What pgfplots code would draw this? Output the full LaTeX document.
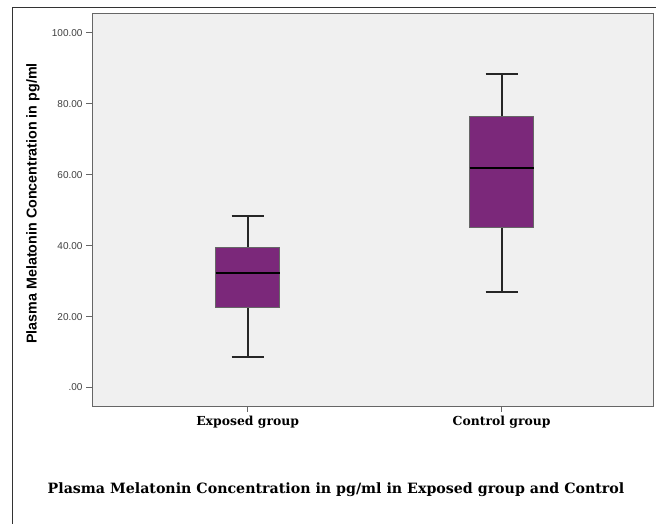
\documentclass[border=0pt]{standalone}
\usepackage{pgfplots}
\pgfplotsset{compat=1.18}
\usepackage{fontspec}
\setmainfont{DejaVu Serif}
\newfontfamily\arial{Liberation Sans}
\definecolor{boxpurple}{RGB}{123,40,122}
\definecolor{plotbg}{RGB}{240,240,240}
\begin{document}
\begin{tikzpicture}
\path[use as bounding box] (0pt,0pt) rectangle (656pt,524pt);
\fill[white] (0pt,0pt) rectangle (656pt,524pt);
\draw[black!80, line width=1pt] (12pt,0pt) -- (12pt,516pt) -- (656pt,516pt);
\begin{axis}[at={(92pt,118pt)}, anchor=south west, scale only axis,
 width=561pt, height=393pt,
 xmin=0.387, xmax=2.596, ymin=-5.2, ymax=105.6,
 axis background/.style={fill=plotbg},
 axis line style={black!60, line width=0.9pt},
 xtick={1,2}, xticklabels={Exposed group, Control group},
 ytick={0,20,40,60,80,100}, yticklabels={.00,20.00,40.00,60.00,80.00,100.00},
 tick align=outside, tick pos=left, major tick length=6pt,
 tick style={black!60, line width=0.9pt},
 yticklabel style={font=\arial\fontsize{10}{12}\selectfont, text=black!75},
 xticklabel style={font=\bfseries\fontsize{12.4}{14}\selectfont, yshift=-1pt},
 box/.style={fill=boxpurple, draw=black!60, line width=0.9pt},
 whisk/.style={black!85, line width=2pt},
 med/.style={black, line width=2.4pt},
]
% Exposed group: whiskers 8.5 / 48.4, quartiles 22.5 / 39.5, median 32.3
\addplot[whisk] coordinates {(1,22.5) (1,8.5)};
\addplot[whisk] coordinates {(1,39.5) (1,48.4)};
\addplot[whisk] coordinates {(0.937,8.5) (1.063,8.5)};
\addplot[whisk] coordinates {(0.937,48.4) (1.063,48.4)};
\addplot[box] coordinates {(0.874,22.5) (1.126,22.5) (1.126,39.5) (0.874,39.5)} --cycle;
\addplot[med] coordinates {(0.874,32.3) (1.126,32.3)};
% Control group: whiskers 26.8 / 88.4, quartiles 45.1 / 76.4, median 61.9
\addplot[whisk] coordinates {(2,45.1) (2,26.8)};
\addplot[whisk] coordinates {(2,76.4) (2,88.4)};
\addplot[whisk] coordinates {(1.937,26.8) (2.063,26.8)};
\addplot[whisk] coordinates {(1.937,88.4) (2.063,88.4)};
\addplot[box] coordinates {(1.874,45.1) (2.126,45.1) (2.126,76.4) (1.874,76.4)} --cycle;
\addplot[med] coordinates {(1.874,61.9) (2.126,61.9)};
\end{axis}
\node[rotate=90, font=\arial\bfseries\fontsize{14.3}{16}\selectfont] at (33pt,320.5pt) {Plasma Melatonin Concentration in pg/ml};
\node[font=\bfseries\fontsize{14.2}{16}\selectfont] at (336pt,34pt) {Plasma Melatonin Concentration in pg/ml in Exposed group and Control};
\end{tikzpicture}
\end{document}
